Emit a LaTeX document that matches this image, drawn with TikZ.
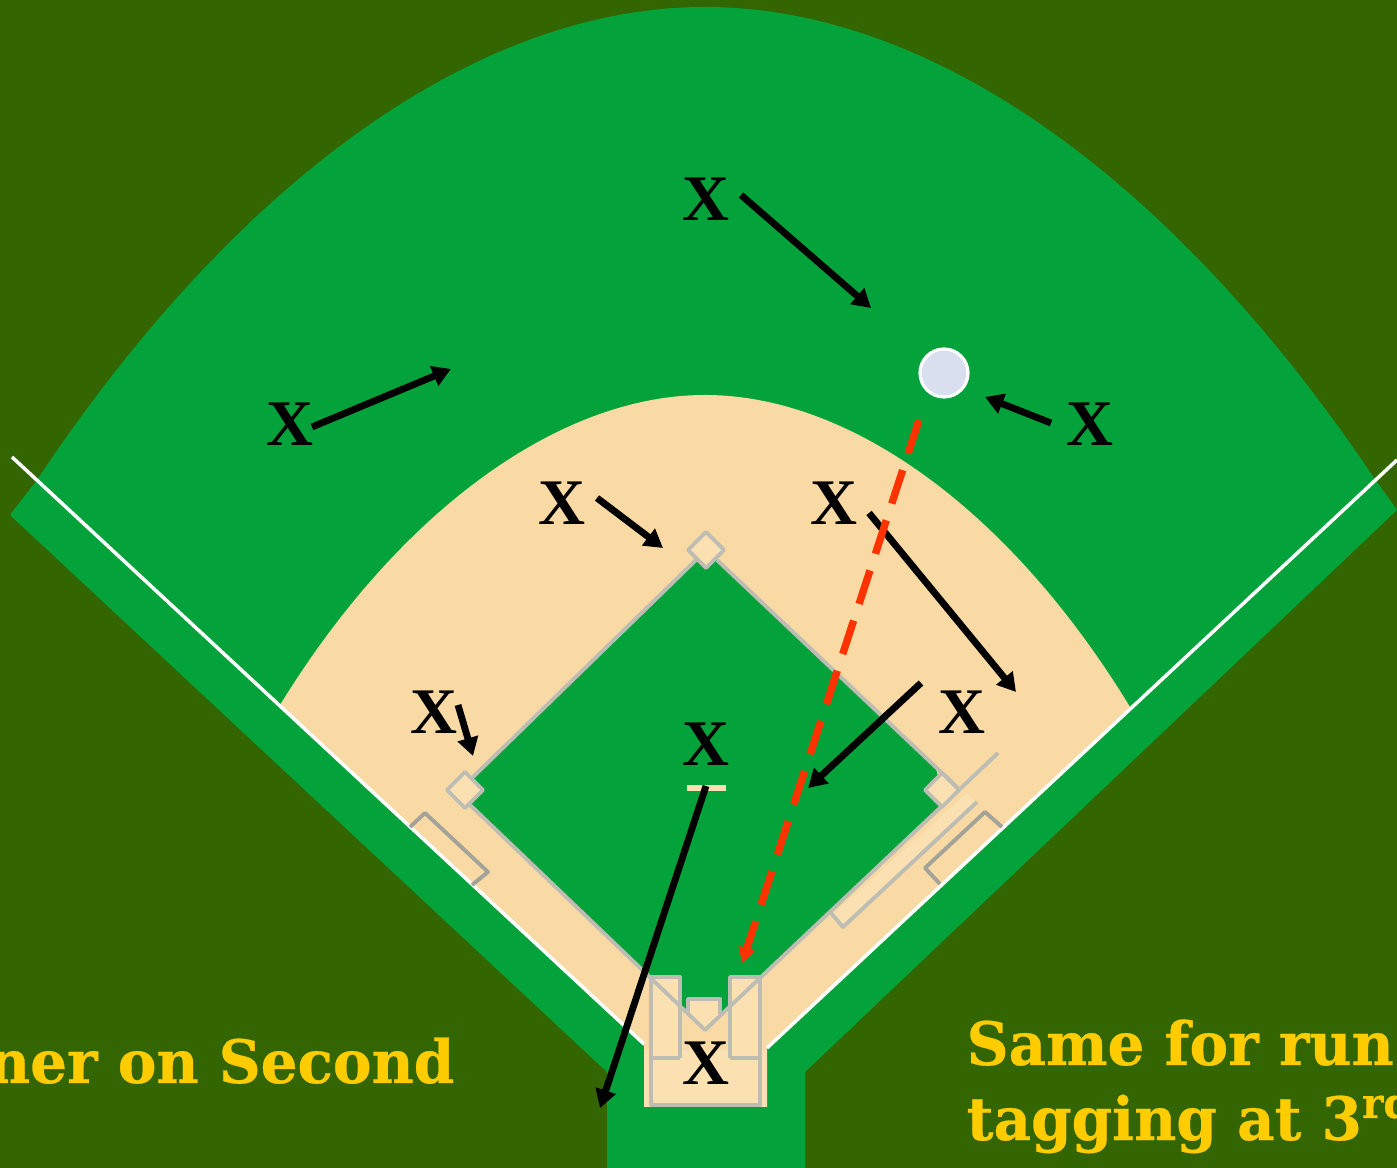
\documentclass[tikz,border=0pt]{standalone}
\usepackage{fontspec}
\setmainfont{Liberation Serif}
\newfontfamily\capfont{DejaVu Serif}[FakeStretch=0.97, BoldFeatures={FakeBold=0.5}]
\usetikzlibrary{arrows.meta}
\definecolor{night}{HTML}{336600}
\definecolor{grass}{HTML}{04A23A}
\definecolor{dirt}{HTML}{F9DAA5}
\definecolor{bagfill}{HTML}{FBE1B2}
\definecolor{chalk}{HTML}{BDBDB3}
\definecolor{dugout}{HTML}{A3A39A}
\definecolor{flight}{HTML}{FF3300}
\definecolor{caption}{HTML}{FFCC00}
\definecolor{ballfill}{HTML}{D9DFEE}
\begin{document}
\begin{tikzpicture}[x=0.01cm, y=-0.01cm,
  fielder/.style={font=\fontsize{18.5}{18.5}\selectfont\bfseries, text=black, inner sep=0pt},
  run/.style={draw=black, line width=1.95pt, -{Triangle[length=5.2pt,width=5.8pt]}},
  baseline/.style={draw=chalk, line width=1.1pt, line join=round},
  bag/.style={baseline, fill=bagfill},
  bench/.style={draw=dugout, line width=1.1pt, line join=round},
  note/.style={font=\capfont\fontsize{17}{17}\selectfont\bfseries, text=caption, inner sep=0pt},
]
\useasboundingbox (0,0) rectangle (1397,1168);
\clip (0,0) rectangle (1397,1168);
\fill[night] (0,0) rectangle (1397,1168);
\fill[grass] (607,1168) -- (607,1072) -- (10,515) -- (37,480)
  .. controls (230,190) and (470,7) .. (705,7)
  .. controls (940,7) and (1180,190) .. (1372,475)
  -- (1397,510) -- (805,1072) -- (805,1168) -- cycle;
\fill[dirt] (280,705) .. controls (400,510) and (560,395) .. (705,395)
  .. controls (850,395) and (1010,510) .. (1130,707)
  -- (767,1048) -- (767,1107) -- (644,1107) -- (644,1046) -- cycle;
\draw[white, line width=1pt] (12,457) -- (644,1044);
\draw[white, line width=1pt] (1397,460) -- (767,1048);
\fill[grass] (706,565) -- (717,560) -- (935,766) -- (942,790) -- (943,807) -- (760,977)
  -- (705,1030) -- (651,977) -- (468,803) -- (465,790) -- (473,777) -- (696,560) -- cycle;
\fill[bagfill] (644,1050) rectangle (767,1107);
\fill[bagfill] (651,977) rectangle (680,1058);
\fill[bagfill] (730,977) rectangle (760,1058);
\fill[bagfill] (967,793) -- (977,802) -- (843,927) -- (833,914) -- cycle;
\fill[bagfill] (688,999) -- (720,999) -- (720,1015) -- (705,1030) -- (688,1015) -- cycle;
\draw[baseline] (696,560) -- (473,777);
\draw[baseline] (717,560) -- (960,790);
\draw[baseline] (468,803) -- (705,1030) -- (998,753);
\draw[baseline] (977,802) -- (843,927) -- (831,913);
\draw[baseline] (680,1058) -- (680,977) -- (651,977) -- (651,1105) -- (760,1105) -- (760,977) -- (730,977) -- (730,1058);
\draw[baseline] (651,1058) -- (680,1058);
\draw[baseline] (760,1058) -- (730,1058);
\draw[baseline] (688,1012) -- (688,999) -- (720,999) -- (720,1014);
\draw[bag] (706,532) -- (724,550) -- (706,568) -- (688,550) -- cycle;
\draw[bag] (465,772) -- (483,790) -- (465,808) -- (447,790) -- cycle;
\draw[bag] (942,773) -- (959,790) -- (942,807) -- (925,790) -- cycle;
\draw[bench] (410,827) -- (425,813) -- (488,872) -- (472,885);
\draw[bench] (1002,827) -- (985,812) -- (925,868) -- (940,884);
\fill[bagfill] (687,785) rectangle (726,791);
\foreach \name/\x/\y in {center/706/199, left/290/424, right/1090/424, short/562/503, second/834/503, third/434/712, first/962/712, pitcher/706/744, catcher/706/1063} {
  \node[fielder] (\name) at (\x,\y) {X};
}
\node[circle, fill=ballfill, draw=white, line width=0.9pt, inner sep=0pt, minimum size=0.48cm] (ball) at (944,373) {};
\coordinate (centerto) at (871,308);
\coordinate (leftto) at (451,369);
\coordinate (rightto) at (985,397);
\coordinate (shortto) at (663,548);
\coordinate (secondto) at (1016,692);
\coordinate (thirdto) at (473,756);
\coordinate (firstto) at (808,788);
\coordinate (pitcherto) at (600,1108);
\coordinate (ballto) at (742,963);
\draw[run] ([shift={(35,-4)}]center.center) -- (centerto);
\draw[run] ([shift={(22,3)}]left.center) -- (leftto);
\draw[run] ([shift={(-39,-1)}]right.center) -- (rightto);
\draw[run] ([shift={(35,-5)}]short.center) -- (shortto);
\draw[run] ([shift={(35,10)}]second.center) -- (secondto);
\draw[run] ([shift={(24,-7)}]third.center) -- (thirdto);
\draw[run] ([shift={(-41,-29)}]first.center) -- (firstto);
\draw[run] ([shift={(0,42)}]pitcher.center) -- (pitcherto);
\draw[draw=flight, line width=2.1pt, dash pattern=on 10pt off 5pt, -{Triangle[length=4.4pt,width=4.6pt]}] ([shift={(-25,47)}]ball.center) -- (ballto);
\node[note, anchor=base east] (second note) at (455,1083) {ner on Second};
\node[note, anchor=base west] (same note) at (966,1065) {Same for run};
\node[note, anchor=base west] (tag note) at (966,1140) {tagging at 3\textsuperscript{rd}};
\end{tikzpicture}
\end{document}
